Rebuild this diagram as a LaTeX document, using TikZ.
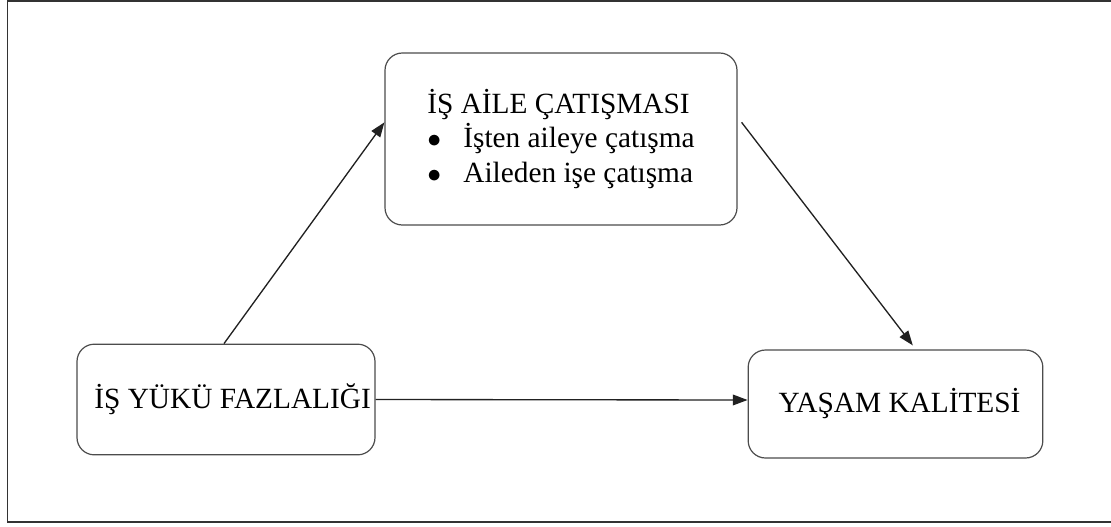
\documentclass[tikz,border=0pt]{standalone}
\usepackage{fontspec}
\setmainfont{Liberation Serif}
\usetikzlibrary{arrows.meta}

\begin{document}
\begin{tikzpicture}[x=0.75pt, y=-0.75pt,
    box/.style={draw=black!70, line width=0.9pt, rounded corners=13pt, inner sep=0pt,
      font=\fontsize{22}{26}\selectfont},
    link/.style={draw=black!87, line width=1pt, -{Triangle[length=11pt, width=8pt]}}]

\useasboundingbox (0,0) rectangle (1111,526);
\draw[black!80, line width=1.2pt] (7.5,1) rectangle (1130,522);

\node[box, minimum width=264pt, minimum height=129pt, align=left] (conflict) at (561,139)
  {İŞ AİLE ÇATIŞMASI\\
   \makebox[27pt][l]{$\bullet$}İşten aileye çatışma\\
   \makebox[27pt][l]{$\bullet$}Aileden işe çatışma};
\node[box, minimum width=223.5pt, minimum height=83pt] (work) at (226,399.5) {\hspace{10pt}İŞ YÜKÜ FAZLALIĞI};
\node[box, minimum width=221pt, minimum height=81pt] (quality) at (895.5,404) {\hspace{6pt}YAŞAM KALİTESİ};

\draw[link] ([xshift=-1.5pt]work.north) -- ([yshift=12.5pt]conflict.west);
\draw[link] ([xshift=3pt, yshift=12.5pt]conflict.east) -- ([xshift=13pt, yshift=3pt]quality.north);
\draw[link] (work.east) -- ([yshift=3pt]quality.west);

\end{tikzpicture}
\end{document}
